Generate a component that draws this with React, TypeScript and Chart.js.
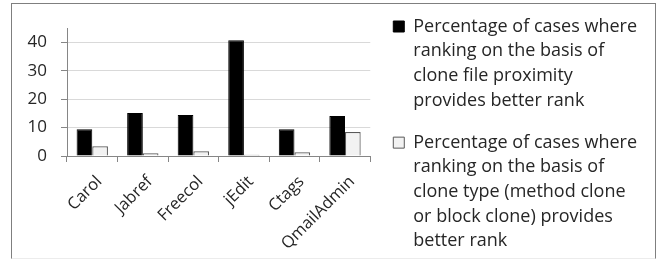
import React, { useEffect, useRef } from "react";
import { Chart, registerables } from "chart.js";

Chart.register(...registerables);

const categories = ["Carol", "Jabref", "Freecol", "jEdit", "Ctags", "QmailAdmin"];
const proximityValues = [9.4, 15.1, 14.4, 40.7, 9.4, 14.1];
const cloneTypeValues = [3.4, 0.95, 1.65, 0.4, 1.3, 8.4];
const proximityLabel = [
  "Percentage of cases where",
  "ranking on the basis of",
  "clone file proximity",
  "provides better rank",
];
const cloneTypeLabel = [
  "Percentage of cases where",
  "ranking on the basis of",
  "clone type (method clone",
  "or block clone) provides",
  "better rank",
];
const yTickValues = [0, 10, 20, 30, 40];
const yMax = 45;

const FONT = "'Open Sans', 'DejaVu Sans', sans-serif";

export default function App() {
  const ref = useRef<HTMLCanvasElement | null>(null);

  useEffect(() => {
    if (!ref.current) return;
    const chart = new Chart(ref.current, {
      type: "bar",
      data: {
        labels: categories,
        datasets: [
          {
            label: proximityLabel as any,
            data: proximityValues,
            backgroundColor: "#000000",
            borderColor: "#000000",
            borderWidth: 1,
            categoryPercentage: 0.62,
            barPercentage: 1.0,
          },
          {
            label: cloneTypeLabel as any,
            data: cloneTypeValues,
            backgroundColor: "#f2f2f2",
            borderColor: "#595959",
            borderWidth: 1.2,
            categoryPercentage: 0.62,
            barPercentage: 1.0,
          },
        ],
      },
      options: {
        responsive: false,
        animation: false,
        devicePixelRatio: 1,
        layout: { padding: { left: 0, top: 0, right: 18, bottom: 0 } },
        plugins: {
          tooltip: { enabled: false },
          legend: {
            position: "right",
            align: "start",
            maxWidth: 320,
            labels: {
              boxWidth: 11,
              boxHeight: 11,
              padding: 17.5,
              color: "#262626",
              font: { family: FONT, size: 18, lineHeight: 1.37 },
              generateLabels: (chart: any) =>
                chart.data.datasets.map((ds: any, i: number) => ({
                  text: ds.label,
                  fillStyle: ds.backgroundColor,
                  strokeStyle: ds.borderColor,
                  lineWidth: 1,
                  hidden: false,
                  datasetIndex: i,
                  fontColor: "#262626",
                })),
            },
          },
        },
        scales: {
          x: {
            type: "category",
            position: "bottom",
            offset: true,
            grid: {
              offset: true,
              drawOnChartArea: false,
              drawTicks: true,
              tickLength: 6,
              tickColor: "#868686",
            },
            border: { display: true, color: "#868686", width: 1 },
            ticks: {
              minRotation: 45,
              maxRotation: 45,
              autoSkip: false,
              padding: 10,
              labelOffset: 7,
              color: "#262626",
              font: { family: FONT, size: 16.5 },
            },
            afterFit: (s: any) => {
              s.height = 320 - 156;
            },
          },
          xT: {
            type: "linear",
            position: "top",
            display: true,
            grid: { display: false },
            border: { display: false },
            ticks: { display: false },
            afterFit: (s: any) => {
              s.height = 28;
            },
          },
          y: {
            type: "linear",
            position: "left",
            min: 0,
            max: yMax,
            ticks: {
              stepSize: 10,
              padding: 14,
              color: "#262626",
              font: { family: FONT, size: 17 },
            },
            afterBuildTicks: (s: any) => {
              s.ticks = yTickValues.map((v) => ({ value: v }));
            },
            grid: {
              color: "#d9d9d9",
              lineWidth: 1,
              drawTicks: true,
              tickLength: 6,
              tickColor: "#868686",
            },
            border: { display: true, color: "#868686", width: 1 },
            afterFit: (s: any) => {
              s.width = 67;
            },
          },
          yR: {
            type: "linear",
            position: "right",
            display: true,
            grid: { display: false },
            border: { display: false },
            ticks: { display: false },
            afterFit: (s: any) => {
              s.width = 5.5;
            },
          },
        },
      },
    });
    return () => chart.destroy();
  }, []);

  return (
    <div
      style={{
        position: "fixed",
        left: 0,
        top: 0,
        width: 665,
        height: 259,
        overflow: "hidden",
        background: "#ffffff",
      }}
    >
      <div
        style={{
          position: "absolute",
          left: 11,
          top: 3,
          width: 643,
          height: 254,
          borderLeft: "1px solid #7f7f7f",
          borderTop: "1px solid #7f7f7f",
          borderRight: "1px solid #7f7f7f",
          borderBottom: "1px solid #ececec",
        }}
      />
      <canvas
        ref={ref}
        width={665}
        height={320}
        style={{ position: "absolute", left: 0, top: 0, width: 665, height: 320 }}
      />
    </div>
  );
}
